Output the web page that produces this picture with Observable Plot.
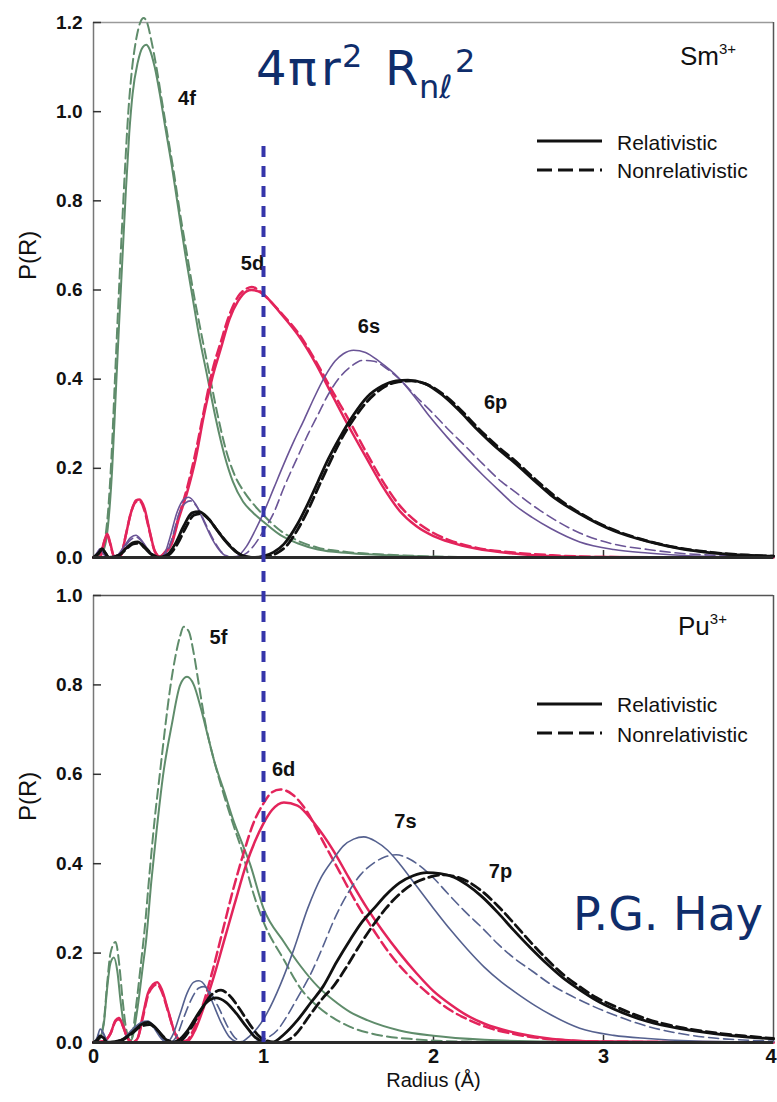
<!DOCTYPE html>
<html><head><meta charset="utf-8">
<script src="https://cdn.jsdelivr.net/npm/d3@7"></script>
<script src="https://cdn.jsdelivr.net/npm/@observablehq/plot@0.6"></script>
<style>
body{margin:0;background:#fff;}
#wrap{position:relative;width:777px;height:1102px;overflow:hidden;background:#fff;font-family:"Liberation Sans",Arial,sans-serif;}
#top,#bot{position:absolute;left:0;}
#top{top:0}#bot{top:560px}
#ovl{position:absolute;left:0;top:0;pointer-events:none}
</style></head><body>
<div id="wrap"><div id="top"></div><div id="bot"></div>
<svg id="ovl" width="777" height="1102" font-family="Liberation Sans, Arial, sans-serif" fill="#111">
  <text font-family="DejaVu Sans" fill="#0f2d6b" y="85" font-size="48"><tspan x="256">4</tspan><tspan x="288">π</tspan><tspan x="321">r</tspan><tspan x="342" y="67" font-size="32">2</tspan><tspan x="385" y="85">R</tspan><tspan x="419" y="98" font-size="32">nℓ</tspan><tspan x="455" y="72" font-size="32">2</tspan></text>
  <text font-family="DejaVu Sans" fill="#0f2d6b" x="573" y="930" font-size="46">P.G. Hay</text>
  <text x="680" y="65" font-size="26">Sm<tspan font-size="15" dy="-11">3+</tspan></text>
  <text x="678" y="635" font-size="26">Pu<tspan font-size="15" dy="-11">3+</tspan></text>
  <line x1="537" x2="602" y1="141" y2="141" stroke="#111" stroke-width="3"/>
  <line x1="537" x2="602" y1="170" y2="170" stroke="#111" stroke-width="3" stroke-dasharray="15,6"/>
  <text x="617" y="150" font-size="21">Relativistic</text>
  <text x="617" y="178" font-size="21">Nonrelativistic</text>
  <line x1="537" x2="602" y1="704" y2="704" stroke="#111" stroke-width="3"/>
  <line x1="537" x2="602" y1="733" y2="733" stroke="#111" stroke-width="3" stroke-dasharray="15,6"/>
  <text x="617" y="712" font-size="21">Relativistic</text>
  <text x="617" y="742" font-size="21">Nonrelativistic</text>
</svg></div>
<script>
// ---------- data: Sm3+ (radius Å, P(R)) ----------
const sm4fRel = [[0,0],[0.04,0.005],[0.07,0.03],[0.09,0.09],[0.11,0.2],[0.13,0.36],[0.15,0.52],[0.17,0.67],[0.19,0.82],[0.21,0.95],[0.23,1.04],[0.26,1.11],[0.29,1.145],[0.31,1.15],[0.33,1.14],[0.36,1.1],[0.39,1.04],[0.42,0.97],[0.46,0.88],[0.5,0.78],[0.54,0.68],[0.58,0.59],[0.62,0.5],[0.67,0.405],[0.72,0.31],[0.77,0.23],[0.82,0.17],[0.88,0.125],[0.94,0.1],[1.0,0.08],[1.1,0.05],[1.2,0.032],[1.32,0.018],[1.5,0.01],[1.8,0.004],[2.2,0.001],[4,0]];
const sm4fNon = [[0,0],[0.04,0.006],[0.065,0.035],[0.085,0.1],[0.105,0.22],[0.125,0.39],[0.145,0.56],[0.165,0.72],[0.185,0.87],[0.205,1.0],[0.225,1.09],[0.25,1.16],[0.275,1.2],[0.295,1.21],[0.315,1.2],[0.34,1.16],[0.37,1.1],[0.4,1.03],[0.43,0.96],[0.47,0.87],[0.51,0.77],[0.55,0.68],[0.59,0.59],[0.63,0.51],[0.68,0.415],[0.73,0.32],[0.78,0.24],[0.83,0.185],[0.89,0.145],[0.94,0.12],[1.0,0.095],[1.1,0.06],[1.2,0.038],[1.32,0.022],[1.5,0.012],[1.8,0.005],[2.2,0.001],[4,0]];
const sm5dRel = [[0,0],[0.04,0.002],[0.06,0.03],[0.08,0.053],[0.1,0.03],[0.12,0.003],[0.16,0.005],[0.19,0.05],[0.22,0.1],[0.25,0.128],[0.27,0.13],[0.3,0.11],[0.33,0.06],[0.36,0.015],[0.39,0.002],[0.42,0.01],[0.46,0.03],[0.5,0.085],[0.55,0.145],[0.6,0.22],[0.65,0.32],[0.7,0.405],[0.75,0.47],[0.8,0.535],[0.85,0.575],[0.9,0.597],[0.93,0.6],[0.97,0.597],[1.0,0.59],[1.1,0.548],[1.22,0.49],[1.3,0.44],[1.41,0.36],[1.5,0.295],[1.61,0.22],[1.7,0.16],[1.8,0.105],[1.9,0.07],[2.0,0.048],[2.1,0.034],[2.25,0.02],[2.47,0.009],[2.7,0.003],[3.0,0.001],[4,0]];
const sm5dNon = [[0,0],[0.04,0.002],[0.06,0.032],[0.08,0.05],[0.1,0.028],[0.12,0.003],[0.16,0.005],[0.19,0.05],[0.22,0.1],[0.25,0.125],[0.27,0.127],[0.3,0.105],[0.33,0.058],[0.36,0.014],[0.39,0.002],[0.42,0.012],[0.46,0.035],[0.5,0.09],[0.55,0.155],[0.6,0.235],[0.65,0.33],[0.7,0.42],[0.75,0.485],[0.8,0.545],[0.85,0.585],[0.9,0.603],[0.93,0.607],[0.97,0.6],[1.0,0.59],[1.1,0.55],[1.22,0.495],[1.3,0.445],[1.41,0.37],[1.5,0.31],[1.61,0.232],[1.7,0.172],[1.8,0.117],[1.9,0.08],[2.0,0.055],[2.1,0.038],[2.25,0.022],[2.47,0.011],[2.7,0.005],[3.0,0.001],[4,0]];
const sm6sRel = [[0,0],[0.02,0.01],[0.04,0.02],[0.06,0.008],[0.08,0],[0.14,0.005],[0.18,0.025],[0.22,0.045],[0.25,0.05],[0.28,0.04],[0.32,0.018],[0.36,0.003],[0.39,0],[0.42,0.01],[0.45,0.045],[0.49,0.1],[0.53,0.13],[0.56,0.135],[0.6,0.12],[0.65,0.08],[0.7,0.04],[0.75,0.012],[0.8,0.001],[0.84,0.002],[0.9,0.025],[0.95,0.06],[1.0,0.1],[1.06,0.155],[1.12,0.21],[1.18,0.262],[1.24,0.31],[1.3,0.36],[1.36,0.405],[1.42,0.44],[1.47,0.457],[1.53,0.465],[1.6,0.46],[1.68,0.44],[1.79,0.405],[1.9,0.355],[1.98,0.315],[2.08,0.27],[2.2,0.22],[2.29,0.185],[2.4,0.145],[2.47,0.12],[2.58,0.09],[2.69,0.065],[2.86,0.035],[3.06,0.018],[3.26,0.01],[3.5,0.004],[4,0.001]];
const sm6sNon = [[0,0],[0.02,0.008],[0.04,0.018],[0.06,0.008],[0.08,0],[0.14,0.004],[0.18,0.022],[0.22,0.04],[0.25,0.046],[0.28,0.038],[0.32,0.017],[0.36,0.003],[0.4,0],[0.43,0.01],[0.46,0.04],[0.5,0.095],[0.54,0.122],[0.57,0.127],[0.61,0.113],[0.66,0.075],[0.71,0.037],[0.76,0.01],[0.82,0],[0.86,0.002],[0.9,0.01],[0.95,0.03],[1.0,0.06],[1.06,0.1],[1.12,0.157],[1.2,0.225],[1.26,0.275],[1.32,0.32],[1.38,0.365],[1.45,0.405],[1.52,0.43],[1.58,0.442],[1.65,0.44],[1.72,0.425],[1.8,0.4],[1.9,0.36],[1.98,0.33],[2.08,0.29],[2.2,0.245],[2.29,0.21],[2.4,0.17],[2.47,0.15],[2.58,0.118],[2.69,0.09],[2.86,0.055],[3.06,0.03],[3.26,0.018],[3.5,0.008],[4,0.002]];
const sm6pRel = [[0,0],[0.03,0.01],[0.05,0.02],[0.07,0.01],[0.09,0],[0.15,0.005],[0.19,0.02],[0.23,0.033],[0.26,0.035],[0.3,0.022],[0.34,0.007],[0.38,0],[0.43,0.005],[0.48,0.03],[0.53,0.07],[0.58,0.1],[0.62,0.103],[0.67,0.09],[0.72,0.065],[0.78,0.035],[0.84,0.012],[0.9,0.002],[0.95,0],[1.0,0.003],[1.06,0.012],[1.12,0.03],[1.2,0.075],[1.26,0.12],[1.32,0.17],[1.38,0.22],[1.45,0.27],[1.53,0.32],[1.61,0.36],[1.7,0.385],[1.78,0.396],[1.85,0.398],[1.95,0.39],[2.05,0.365],[2.15,0.33],[2.25,0.29],[2.39,0.24],[2.47,0.215],[2.6,0.17],[2.69,0.14],[2.86,0.098],[3.06,0.06],[3.26,0.036],[3.45,0.02],[3.65,0.01],[3.85,0.005],[4,0.003]];
const sm6pNon = [[0,0],[0.03,0.009],[0.05,0.018],[0.07,0.01],[0.09,0],[0.15,0.005],[0.19,0.018],[0.23,0.03],[0.27,0.032],[0.31,0.02],[0.35,0.006],[0.39,0],[0.44,0.005],[0.49,0.028],[0.54,0.065],[0.59,0.095],[0.63,0.098],[0.68,0.085],[0.73,0.06],[0.79,0.032],[0.85,0.01],[0.91,0.001],[0.97,0],[1.02,0.002],[1.08,0.01],[1.14,0.028],[1.2,0.062],[1.26,0.105],[1.32,0.155],[1.38,0.205],[1.45,0.26],[1.53,0.31],[1.61,0.35],[1.7,0.38],[1.78,0.393],[1.87,0.396],[1.95,0.39],[2.05,0.368],[2.15,0.335],[2.25,0.295],[2.39,0.245],[2.47,0.22],[2.6,0.175],[2.69,0.145],[2.86,0.1],[3.06,0.062],[3.26,0.037],[3.45,0.021],[3.65,0.011],[3.85,0.005],[4,0.003]];

// ---------- data: Pu3+ ----------
const pu5fRel = [[0,0],[0.03,0.005],[0.06,0.04],[0.08,0.12],[0.1,0.178],[0.12,0.19],[0.14,0.16],[0.16,0.09],[0.18,0.035],[0.2,0.01],[0.22,0.005],[0.26,0.08],[0.29,0.17],[0.31,0.23],[0.34,0.36],[0.37,0.47],[0.41,0.6],[0.46,0.71],[0.51,0.8],[0.55,0.818],[0.59,0.8],[0.63,0.75],[0.67,0.69],[0.71,0.63],[0.77,0.56],[0.82,0.5],[0.88,0.44],[0.92,0.4],[1.0,0.3],[1.12,0.225],[1.22,0.17],[1.32,0.125],[1.41,0.095],[1.51,0.068],[1.61,0.05],[1.8,0.027],[2.0,0.015],[2.3,0.006],[2.7,0.002],[4,0]];
const pu5fNon = [[0,0],[0.03,0.006],[0.06,0.045],[0.08,0.13],[0.1,0.2],[0.13,0.225],[0.15,0.18],[0.17,0.1],[0.19,0.035],[0.21,0.008],[0.22,0.005],[0.25,0.08],[0.28,0.18],[0.3,0.25],[0.33,0.38],[0.36,0.5],[0.39,0.6],[0.42,0.7],[0.45,0.79],[0.48,0.86],[0.51,0.91],[0.53,0.93],[0.56,0.92],[0.59,0.87],[0.62,0.8],[0.66,0.71],[0.71,0.63],[0.77,0.55],[0.82,0.49],[0.88,0.42],[0.92,0.36],[1.0,0.27],[1.12,0.185],[1.22,0.12],[1.32,0.08],[1.41,0.055],[1.51,0.035],[1.7,0.015],[1.9,0.007],[2.2,0.002],[4,0]];
const pu6dRel = [[0,0],[0.06,0.003],[0.1,0.02],[0.13,0.05],[0.15,0.055],[0.17,0.04],[0.2,0.01],[0.23,0],[0.26,0.01],[0.29,0.06],[0.32,0.11],[0.35,0.13],[0.375,0.135],[0.4,0.12],[0.44,0.07],[0.48,0.02],[0.52,0.002],[0.56,0.005],[0.6,0.03],[0.65,0.08],[0.71,0.15],[0.77,0.23],[0.83,0.31],[0.9,0.4],[0.95,0.45],[1.0,0.49],[1.05,0.52],[1.12,0.537],[1.2,0.53],[1.3,0.49],[1.41,0.43],[1.5,0.37],[1.61,0.3],[1.7,0.25],[1.8,0.2],[1.9,0.155],[2.0,0.115],[2.1,0.085],[2.2,0.06],[2.3,0.042],[2.5,0.02],[2.7,0.008],[3.0,0.002],[4,0]];
const pu6dNon = [[0,0],[0.06,0.003],[0.1,0.02],[0.13,0.048],[0.15,0.052],[0.17,0.04],[0.2,0.01],[0.23,0],[0.26,0.01],[0.29,0.055],[0.32,0.105],[0.35,0.125],[0.375,0.13],[0.4,0.115],[0.44,0.068],[0.48,0.02],[0.52,0.002],[0.55,0.005],[0.59,0.03],[0.64,0.08],[0.7,0.16],[0.76,0.25],[0.82,0.34],[0.88,0.42],[0.94,0.49],[1.0,0.535],[1.05,0.56],[1.1,0.566],[1.17,0.555],[1.25,0.52],[1.35,0.45],[1.45,0.38],[1.55,0.31],[1.65,0.25],[1.75,0.195],[1.88,0.14],[2.0,0.1],[2.1,0.072],[2.2,0.052],[2.3,0.036],[2.5,0.017],[2.7,0.007],[3.0,0.002],[4,0]];
const pu7sRel = [[0,0],[0.02,0.01],[0.04,0.03],[0.06,0.02],[0.08,0.003],[0.12,0],[0.18,0.01],[0.23,0.03],[0.28,0.045],[0.32,0.048],[0.36,0.03],[0.4,0.008],[0.43,0],[0.47,0.02],[0.51,0.065],[0.55,0.11],[0.59,0.135],[0.62,0.138],[0.66,0.125],[0.7,0.09],[0.75,0.045],[0.8,0.012],[0.86,0],[0.92,0.015],[0.97,0.035],[1.02,0.065],[1.1,0.13],[1.18,0.21],[1.26,0.3],[1.34,0.37],[1.41,0.41],[1.47,0.44],[1.53,0.455],[1.59,0.46],[1.66,0.45],[1.73,0.43],[1.8,0.4],[1.9,0.35],[2.0,0.3],[2.1,0.252],[2.2,0.208],[2.3,0.168],[2.4,0.135],[2.49,0.11],[2.6,0.082],[2.69,0.062],[2.86,0.032],[3.06,0.016],[3.26,0.009],[3.5,0.004],[4,0.001]];
const pu7sNon = [[0,0],[0.02,0.008],[0.04,0.025],[0.06,0.018],[0.08,0.003],[0.12,0],[0.18,0.01],[0.24,0.03],[0.29,0.043],[0.33,0.045],[0.37,0.028],[0.41,0.007],[0.45,0],[0.49,0.015],[0.53,0.055],[0.58,0.1],[0.62,0.122],[0.65,0.125],[0.69,0.11],[0.74,0.075],[0.79,0.035],[0.84,0.008],[0.9,0],[0.95,0.002],[1.02,0.01],[1.08,0.027],[1.14,0.06],[1.2,0.1],[1.28,0.155],[1.35,0.215],[1.41,0.27],[1.49,0.33],[1.57,0.375],[1.65,0.402],[1.72,0.416],[1.78,0.42],[1.85,0.412],[1.92,0.395],[2.0,0.368],[2.08,0.335],[2.18,0.295],[2.29,0.255],[2.38,0.22],[2.47,0.19],[2.58,0.16],[2.69,0.13],[2.86,0.095],[3.06,0.062],[3.26,0.036],[3.45,0.02],[3.65,0.01],[3.85,0.005],[4,0.003]];
const pu7pRel = [[0,0],[0.02,0.005],[0.04,0.015],[0.06,0.01],[0.08,0],[0.16,0.005],[0.22,0.02],[0.28,0.04],[0.32,0.045],[0.36,0.035],[0.41,0.012],[0.46,0],[0.5,0.005],[0.55,0.025],[0.6,0.055],[0.66,0.088],[0.72,0.1],[0.78,0.09],[0.84,0.065],[0.9,0.035],[0.95,0.012],[1.0,0.002],[1.05,0],[1.12,0.018],[1.2,0.05],[1.28,0.09],[1.35,0.125],[1.43,0.18],[1.51,0.23],[1.58,0.27],[1.65,0.3],[1.72,0.33],[1.8,0.357],[1.88,0.373],[1.96,0.38],[2.04,0.378],[2.12,0.37],[2.2,0.352],[2.28,0.328],[2.38,0.29],[2.47,0.252],[2.57,0.212],[2.67,0.175],[2.76,0.145],[2.86,0.118],[2.96,0.094],[3.06,0.075],[3.26,0.047],[3.45,0.031],[3.65,0.02],[3.85,0.012],[4,0.008]];
const pu7pNon = [[0,0],[0.02,0.004],[0.04,0.013],[0.06,0.009],[0.08,0],[0.16,0.004],[0.22,0.018],[0.28,0.036],[0.33,0.04],[0.37,0.03],[0.42,0.01],[0.47,0],[0.52,0.006],[0.57,0.03],[0.63,0.07],[0.69,0.105],[0.75,0.117],[0.8,0.105],[0.86,0.075],[0.92,0.04],[0.98,0.012],[1.04,0.002],[1.1,0],[1.18,0.015],[1.28,0.065],[1.35,0.1],[1.41,0.125],[1.49,0.17],[1.57,0.22],[1.65,0.265],[1.72,0.3],[1.8,0.332],[1.88,0.355],[1.96,0.368],[2.05,0.375],[2.14,0.37],[2.22,0.356],[2.28,0.34],[2.38,0.305],[2.47,0.268],[2.57,0.225],[2.67,0.185],[2.76,0.153],[2.86,0.125],[2.96,0.1],[3.06,0.082],[3.26,0.052],[3.45,0.034],[3.65,0.022],[3.85,0.014],[4,0.009]];

// curve labels (data coordinates)
const labelsSm = [{name:"4f",x:0.55,y:1.03},{name:"5d",x:0.935,y:0.66},{name:"6s",x:1.62,y:0.517},{name:"6p",x:2.365,y:0.348}];
const labelsPu = [{name:"5f",x:0.735,y:0.905},{name:"6d",x:1.118,y:0.61},{name:"7s",x:1.835,y:0.494},{name:"7p",x:2.394,y:0.382}];

const yTicksSm = [0,0.2,0.4,0.6,0.8,1.0,1.2];
const yTicksPu = [0,0.2,0.4,0.6,0.8,1.0];
const xTicksInner = [0,1,2,3];
const xTicksEdge = [4];
const xInnerTicks = [1,2,3];

const seriesSm = [
  {orb:"4f",kind:"non",data:sm4fNon},{orb:"4f",kind:"rel",data:sm4fRel},
  {orb:"5d",kind:"non",data:sm5dNon},{orb:"5d",kind:"rel",data:sm5dRel},
  {orb:"6s",kind:"non",data:sm6sNon},{orb:"6s",kind:"rel",data:sm6sRel},
  {orb:"6p",kind:"non",data:sm6pNon},{orb:"6p",kind:"rel",data:sm6pRel}
];
const seriesPu = [
  {orb:"5f",kind:"non",data:pu5fNon},{orb:"5f",kind:"rel",data:pu5fRel},
  {orb:"6d",kind:"non",data:pu6dNon},{orb:"6d",kind:"rel",data:pu6dRel},
  {orb:"7s",kind:"non",data:pu7sNon},{orb:"7s",kind:"rel",data:pu7sRel},
  {orb:"7p",kind:"non",data:pu7pNon},{orb:"7p",kind:"rel",data:pu7pRel}
];

const COLOR = {"4f":"#5f8c6b","5f":"#5f8c6b","5d":"#e3245b","6d":"#e3245b","6s":"#6a5496","7s":"#55618f","6p":"#111","7p":"#111"};
const WIDTH = {"4f":2,"5f":2,"5d":2.5,"6d":2.5,"6s":1.6,"7s":1.6,"6p":2.8,"7p":2.8};
const BLUE = "#3535aa";
const FONT = "Liberation Sans, Arial, sans-serif";

function lineMarks(series) {
  return series.map(s => {
    const rows = s.data.map(([x, y]) => ({x, y}));
    return Plot.line(rows, {x: "x", y: "y", stroke: COLOR[s.orb], strokeWidth: WIDTH[s.orb],
      strokeDasharray: s.kind === "non" ? "10,5" : null, curve: "monotone-x"});
  });
}

const topPlot = Plot.plot({
  width: 777, height: 560, marginLeft: 93, marginRight: 4, marginTop: 22, marginBottom: 3,
  style: {background: "transparent", overflow: "visible", fontFamily: FONT, color: "#111"},
  x: {domain: [0, 4], axis: null},
  y: {domain: [0, 1.2], label: null},
  marks: [
    Plot.ruleY([1.2], {stroke: "#9a9a9a", strokeWidth: 1.5}),
    Plot.ruleX([4], {stroke: "#555", strokeWidth: 1.5}),
    Plot.ruleX([0], {stroke: "#777", strokeWidth: 1.5}),
    Plot.tickY(yTicksSm, {y: d => d, insetRight: 672, stroke: "#333", strokeWidth: 1.5}),
    Plot.tickX(xInnerTicks, {x: d => d, insetTop: 528, stroke: "#333", strokeWidth: 1.5}),
    Plot.axisY(yTicksSm, {tickSize: 0, tickPadding: 11, tickFormat: d => d.toFixed(1), fontSize: 19, fontWeight: "bold", label: null}),
    Plot.text(["P(R)"], {text: d => d, frameAnchor: "left", rotate: -90, dx: -65, dy: -10, fontSize: 24}),
    ...lineMarks(seriesSm),
    Plot.ruleY([0], {stroke: "#2a2a2a", strokeWidth: 3}),
    Plot.text(labelsSm, {x: "x", y: "y", text: "name", fontSize: 20, fontWeight: "bold", fill: "#111"}),
    Plot.ruleX([1], {y1: 0, y2: 0.93, stroke: BLUE, strokeWidth: 4, strokeDasharray: "11,9"})
  ]
});

const botPlot = Plot.plot({
  width: 777, height: 542, marginLeft: 93, marginRight: 4, marginTop: 35, marginBottom: 60,
  style: {background: "transparent", overflow: "visible", fontFamily: FONT, color: "#111"},
  x: {domain: [0, 4], label: null},
  y: {domain: [0, 1.0], label: null},
  marks: [
    Plot.ruleY([1.0], {stroke: "#555", strokeWidth: 1.5}),
    Plot.ruleX([4], {stroke: "#555", strokeWidth: 1.5}),
    Plot.ruleX([0], {stroke: "#777", strokeWidth: 1.5}),
    Plot.tickY(yTicksPu, {y: d => d, insetRight: 672, stroke: "#333", strokeWidth: 1.5}),
    Plot.tickX(xInnerTicks, {x: d => d, insetTop: 440, stroke: "#333", strokeWidth: 1.5}),
    Plot.axisY(yTicksPu, {tickSize: 0, tickPadding: 11, tickFormat: d => d.toFixed(1), fontSize: 19, fontWeight: "bold", label: null}),
    Plot.axisX(xTicksInner, {tickSize: 0, tickPadding: 6, tickFormat: d => String(d), fontSize: 20, fontWeight: "bold", label: null}),
    Plot.axisX(xTicksEdge, {tickSize: 0, tickPadding: 6, tickFormat: d => String(d), fontSize: 20, fontWeight: "bold", label: null, textAnchor: "end", dx: 3}),
    Plot.text(["P(R)"], {text: d => d, frameAnchor: "left", rotate: -90, dx: -65, dy: 2, fontSize: 24}),
    Plot.text(["Radius (Å)"], {text: d => d, frameAnchor: "bottom", dy: 44, fontSize: 20}),
    ...lineMarks(seriesPu),
    Plot.ruleY([0], {stroke: "#2a2a2a", strokeWidth: 3}),
    Plot.text(labelsPu, {x: "x", y: "y", text: "name", fontSize: 20, fontWeight: "bold", fill: "#111"}),
    Plot.ruleX([1], {y1: 0, y2: 1.085, stroke: BLUE, strokeWidth: 4, strokeDasharray: "11,9"})
  ]
});

document.getElementById("top").appendChild(topPlot);
document.getElementById("bot").appendChild(botPlot);
</script>
</body></html>
